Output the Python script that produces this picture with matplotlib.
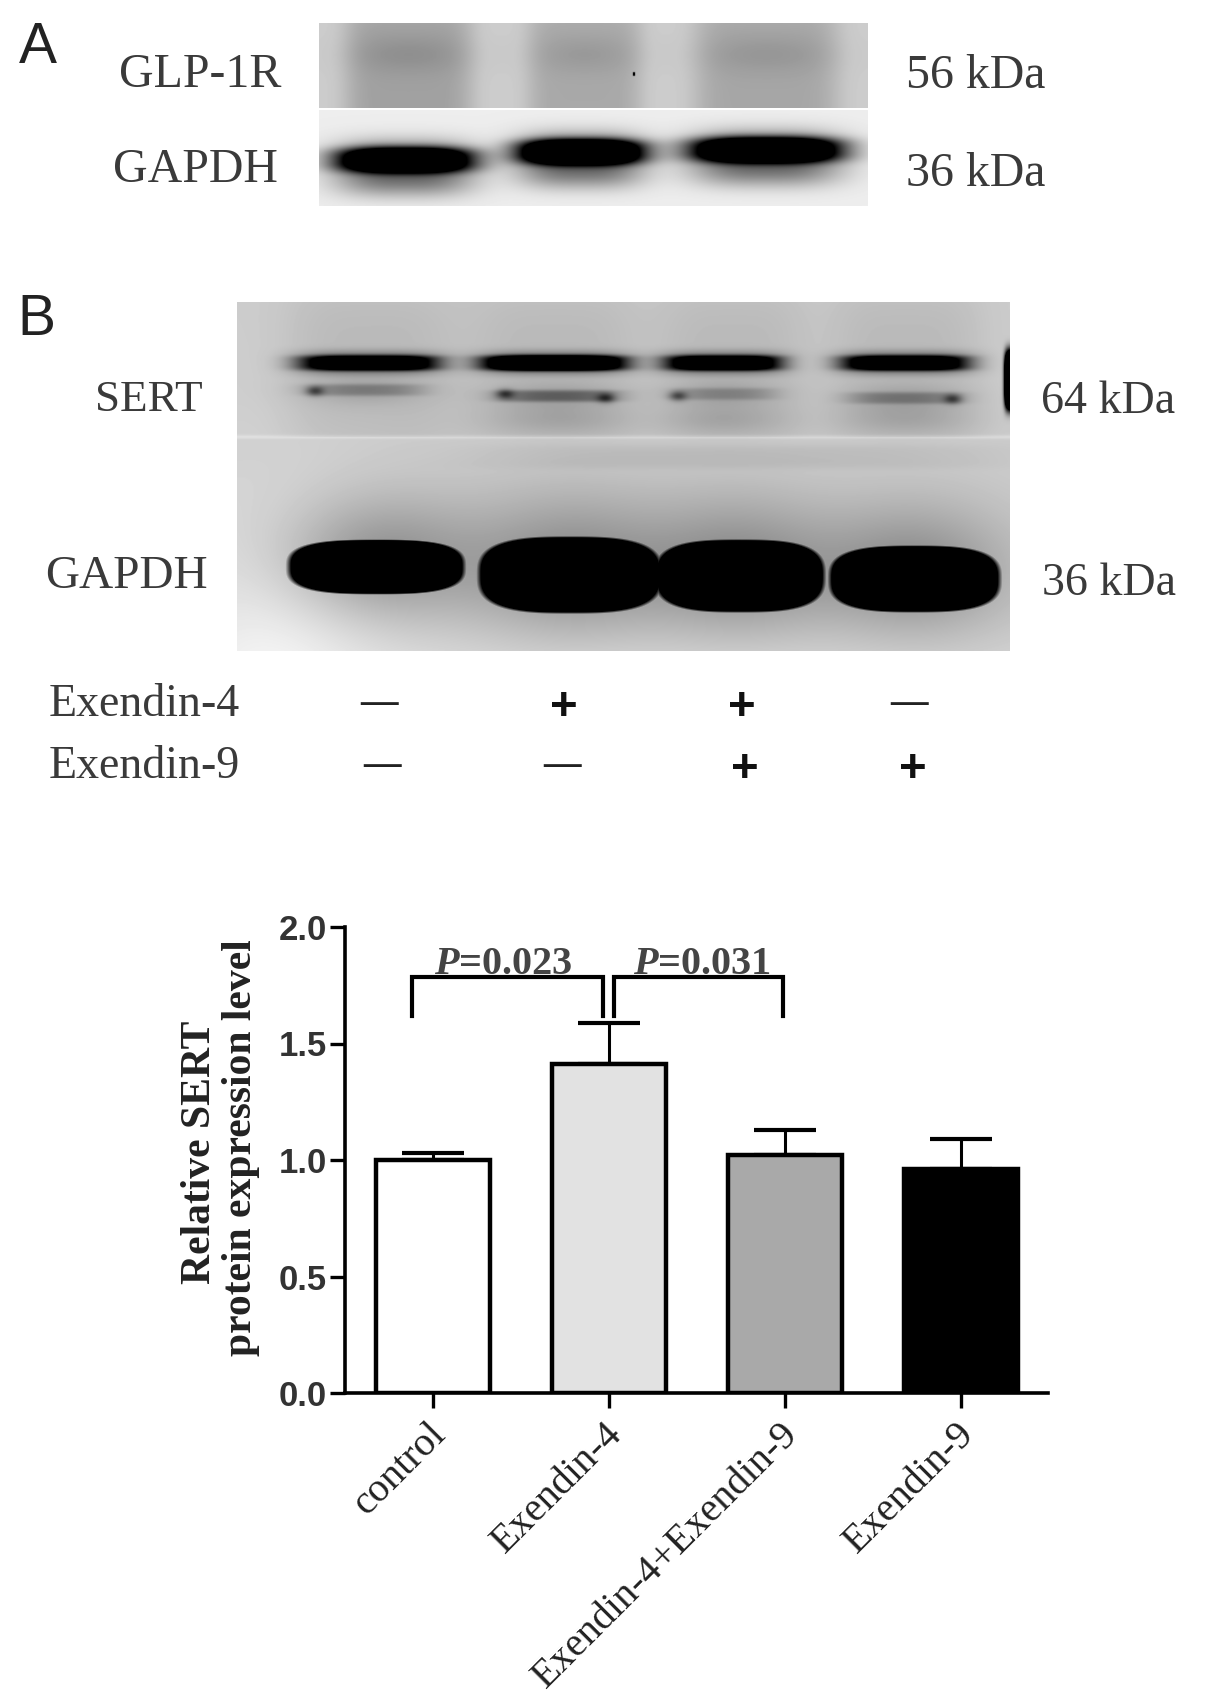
import numpy as np
import matplotlib
matplotlib.use('Agg')
import matplotlib.pyplot as plt

plt.rcParams['font.family'] = ['Liberation Serif', 'DejaVu Sans']
plt.rcParams['mathtext.fontset'] = 'custom'
plt.rcParams['mathtext.it'] = 'Liberation Serif:italic:bold'
plt.rcParams['mathtext.rm'] = 'Liberation Serif:bold'

# bar chart values
groups = ['control', 'Exendin-4', 'Exendin-4+Exendin-9', 'Exendin-9']
means = [1.00, 1.41, 1.02, 0.96]
sem = [0.03, 0.18, 0.11, 0.13]
bar_colors = ['white', '#e2e2e2', '#a9a9a9', 'black']
y_ticks = [0.0, 0.5, 1.0, 1.5, 2.0]
p_labels = ['0.023', '0.031']

# treatment table under blot B
exendin4_signs = ['—', '+', '+', '—']
exendin9_signs = ['—', '—', '+', '+']

# relative band density read from the blots
glp1r_density = [0.17, 0.14, 0.15]
gapdh_a_density = [1.5, 1.7, 1.6]
sert_upper_density = [1.0, 1.3, 1.0, 1.0]
sert_lower_density = [0.16, 0.26, 0.13, 0.18]
gapdh_b_density = [1.0, 1.0, 1.0, 1.0]

W, H = 1205, 1700
fig = plt.figure(figsize=(W / 100, H / 100), dpi=100)
page = fig.add_axes([0, 0, 1, 1])
page.set_xlim(0, W)
page.set_ylim(H, 0)
page.axis('off')


def blob(xx, yy, cx, cy, w, h, p=2):
    return np.exp(-np.abs((xx - cx) / w) ** (2 * p) - np.abs((yy - cy) / h) ** (2 * p))


def slab(xx, yy, cx, cy, w, h, n=3):
    # saturated band with a hard rounded outline
    r = (np.abs((xx - cx) / w) ** n + np.abs((yy - cy) / h) ** n) ** (1 / n)
    return np.clip((1.03 - r) * 12, 0, 1)


def grid(x0, x1, y0, y1):
    return np.meshgrid(np.arange(x0, x1) + 0.5, np.arange(y0, y1) + 0.5)


def show(img, x0, x1, y0, y1):
    page.imshow(np.clip(img, 0, 1), cmap='gray', vmin=0, vmax=1, extent=(x0, x1, y1, y0),
                aspect='auto', interpolation='bilinear', zorder=1)


# panel A, GLP-1R
xx, yy = grid(319, 868, 23, 108)
img = 0.80 * np.ones_like(xx, dtype=float)
for d, cx, w in zip(glp1r_density, [409, 585, 767], [64, 57, 72]):
    img -= d * blob(xx, yy, cx, 75, w, 75, 3)
    img -= 0.4 * d * blob(xx, yy, cx, 55, w * 0.9, 18, 1)
img -= 0.7 * blob(xx, yy, 634, 74, 1.3, 2)
show(img, 319, 868, 23, 108)

# panel A, GAPDH
xx, yy = grid(319, 868, 110, 206)
img = 0.93 * np.ones_like(xx, dtype=float)
for d, cx, cy, w in zip(gapdh_a_density, [405, 581, 766], [160, 152, 150], [66, 60, 72]):
    img -= d * blob(xx, yy, cx, cy, w, 12, 1.5)
    img -= 0.55 * blob(xx, yy, cx, cy + 8, w + 4, 27, 1.5)
show(img, 319, 868, 110, 206)

# panel B blot
xx, yy = grid(237, 1010, 302, 651)
img = 0.80 * np.ones_like(xx, dtype=float)
upper = yy < 437
img -= 0.07 * upper * (blob(xx, yy, 372, 370, 88, 90) + blob(xx, yy, 555, 370, 92, 90)
                       + blob(xx, yy, 733, 370, 78, 90) + blob(xx, yy, 905, 370, 80, 90))
img -= 0.09 * blob(xx, yy, 560, 420, 70, 15, 1) + 0.09 * blob(xx, yy, 725, 420, 60, 15, 1)
img -= 0.09 * blob(xx, yy, 905, 420, 65, 15, 1)
img += 0.06 * np.exp(-((yy - 437) / 2.0) ** 2)
img -= 0.05 * blob(xx, yy, 740, 457, 260, 12)
img += 0.12 * blob(xx, yy, 270, 640, 110, 150, 1)
img += 0.07 * blob(xx, yy, 620, 680, 500, 60, 1)

for d, cx, w in zip(sert_upper_density, [369, 554, 723, 905], [68, 70, 57, 62]):
    img -= d * blob(xx, yy, cx, 363, w, 7.5)
    img -= 0.25 * blob(xx, yy, cx, 363, w + 8, 13)
for d, cx, cy, w in zip(sert_lower_density, [365, 558, 725, 905], [390, 396, 394, 398], [60, 62, 52, 58]):
    img -= d * blob(xx, yy, cx, cy, w, 6)
    img -= 0.1 * blob(xx, yy, cx, cy, w, 14, 1)
# darker spots at the ends of the lower bands
for cx, cy in [(315, 391), (505, 394), (606, 398), (678, 396), (953, 399)]:
    img -= 0.35 * blob(xx, yy, cx, cy, 9, 5, 1)

core = np.zeros_like(img)
for d, cx, cy, w, h in zip(gapdh_b_density, [376, 570, 740, 915], [567, 575, 576, 579], [88, 91, 84, 85], [27, 38, 36, 33]):
    core = np.maximum(core, d * slab(xx, yy, cx, cy, w, h))
    img -= 0.24 * blob(xx, yy, cx, cy - 8, w + 12, h + 34, 1)
img -= core
img -= 3 * blob(xx, yy, 1013, 380, 8, 28)
show(img, 237, 1010, 302, 651)

# labels of the blots
serif = dict(color='#3a3a3a', ha='center', va='center', zorder=3)
page.text(38, 48, 'A', family='Liberation Sans', fontsize=41, color='#222222', ha='center', va='center')
page.text(36, 320, 'B', family='Liberation Sans', fontsize=41, color='#222222', ha='center', va='center')
page.text(200, 75, 'GLP-1R', fontsize=34.5, **serif)
page.text(195, 170, 'GAPDH', fontsize=34.5, **serif)
page.text(976, 76, '56 kDa', fontsize=34.5, **serif)
page.text(976, 174, '36 kDa', fontsize=34.5, **serif)
page.text(149, 400, 'SERT', fontsize=32.5, **serif)
page.text(126, 577, 'GAPDH', fontsize=34, **serif)
page.text(1108, 402, '64 kDa', fontsize=33, **serif)
page.text(1109, 584, '36 kDa', fontsize=33, **serif)
page.text(144, 705, 'Exendin-4', fontsize=33, **serif)
page.text(144, 767, 'Exendin-9', fontsize=33, **serif)

for signs, xs, y in [(exendin4_signs, [379, 564, 742, 909], 703),
                     (exendin9_signs, [382, 562, 745, 913], 765)]:
    for s, x in zip(signs, xs):
        if s == '+':
            page.text(x, y + 5, s, family='Liberation Sans', fontweight='bold', fontsize=34,
                      color='#111111', ha='center', va='center')
        else:
            page.text(x, y, s, fontsize=27, fontweight='bold', color='#222222', ha='center', va='center')

# bar chart
left, right, top, bottom = 345, 1048, 927, 1393
ax = fig.add_axes([left / W, 1 - bottom / H, (right - left) / W, (bottom - top) / H])
ax.patch.set_alpha(0)
x = np.arange(len(groups))
ax.bar(x, means, width=0.645, color=bar_colors, edgecolor='black', linewidth=3.2, zorder=3)
ax.errorbar(x, means, yerr=[[0] * len(sem), sem], fmt='none', ecolor='black', elinewidth=2.2,
            capsize=22, capthick=3, zorder=2)
ax.set_xlim(-0.5, 3.494)
ax.set_ylim(0, 2.0)
ax.set_yticks(y_ticks)
ax.set_yticklabels(['%.1f' % t for t in y_ticks], family='Liberation Sans', fontsize=25,
                   fontweight='bold', color='#333333')
ax.set_xticks(x)
ax.set_xticklabels([''] * len(groups))
for xi, name in zip(x, groups):
    ax.annotate(name, xy=(xi, 0), xycoords=ax.get_xaxis_transform(), xytext=(-4, -16.5),
                textcoords='offset points', rotation=45, ha='right', va='top',
                rotation_mode='anchor', fontsize=29, color='#222222', annotation_clip=False)
ax.tick_params(axis='both', length=11, width=2.4, color='black')
ax.tick_params(axis='y', pad=2)
for s in ['top', 'right']:
    ax.spines[s].set_visible(False)
for s in ['left', 'bottom']:
    ax.spines[s].set_linewidth(2.6)
ax.spines['left'].set_bounds(0, 2.0)

# significance brackets
for a, b, label, label_x in [(-0.12, 0.966, p_labels[0], 0.40), (1.028, 1.989, p_labels[1], 1.53)]:
    ax.plot([a, a, b, b], [1.618, 1.785, 1.785, 1.618], color='black', lw=3, solid_joinstyle='miter',
            clip_on=False, zorder=4)
    ax.text(label_x, 1.84, r'$\mathit{P}$=' + label, fontsize=29, fontweight='bold',
            color='#444444', ha='center', va='center')

page.text(200, 1152, 'Relative SERT', rotation=90, fontsize=30, fontweight='bold', color='#222222',
          ha='center', va='center')
page.text(241, 1148, 'protein expression level', rotation=90, fontsize=30, fontweight='bold',
          color='#222222', ha='center', va='center')

fig.savefig('out.png', dpi=100)
